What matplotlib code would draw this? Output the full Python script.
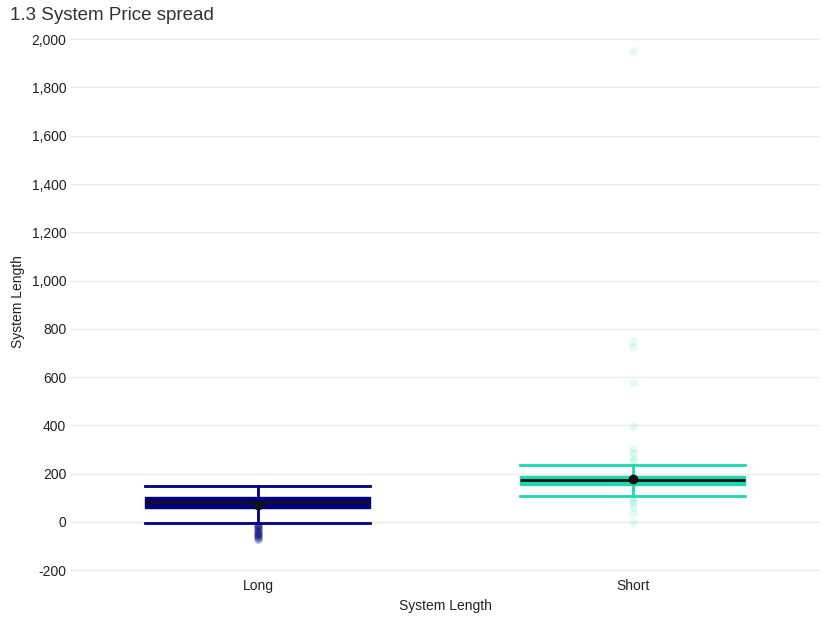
import matplotlib.pyplot as plt

plt.rcParams['font.family'] = ['Liberation Sans', 'DejaVu Sans']

categories = ["Long", "Short"]
colors = ["#000080", "#1FD8AF"]
q1 = [58, 155]
median = [83, 174]
q3 = [103, 191]
mean = [70, 179]
whisker_low = [-4, 109]
whisker_high = [149, 236]
outliers = [
    [-12, -18, -25, -32, -40, -48, -55, -62, -70],
    [1950, 751, 726, 574, 399, 302, 284, 264, 253, 105, 91, 77, 63, 36, -2],
]

fig = plt.figure(figsize=(8.22, 6.17), dpi=100)
ax = fig.add_axes([0.0858, 0.064, 0.912, 0.896])

for i, cat in enumerate(categories):
    stats = [dict(med=median[i], q1=q1[i], q3=q3[i], whislo=whisker_low[i],
                  whishi=whisker_high[i], mean=mean[i], fliers=[], label=cat)]
    c = colors[i]
    ax.bxp(stats, positions=[i], widths=0.6, capwidths=0.6, showmeans=True,
           showfliers=False, patch_artist=True,
           boxprops=dict(facecolor=c, edgecolor=c, linewidth=1),
           whiskerprops=dict(color=c, linewidth=2),
           capprops=dict(color=c, linewidth=2),
           medianprops=dict(color="#111111", linewidth=2),
           meanprops=dict(marker="o", markerfacecolor="#111111",
                          markeredgecolor="#111111", markersize=6),
           manage_ticks=False)
    alpha = 0.35 if i == 0 else 0.12
    ax.plot([i] * len(outliers[i]), outliers[i], "o", color=c, alpha=alpha,
            markersize=6, markeredgewidth=0, zorder=1)

ax.set_xlim(-0.5, 1.5)
ax.set_ylim(-230, 2060)
ax.set_xticks(range(len(categories)))
ax.set_xticklabels(categories)
ax.set_yticks(range(-200, 2001, 200))
ax.yaxis.set_major_formatter(plt.FuncFormatter(lambda v, p: f"{int(v):,}"))
ax.grid(axis="y", color="#EBEBEB", linewidth=1)
ax.set_axisbelow(True)
for s in ax.spines.values():
    s.set_visible(False)
ax.tick_params(length=0, labelsize=10, colors="#222222")
ax.tick_params(axis="x", pad=1)
ax.tick_params(axis="y", pad=3)
ax.set_xlabel("System Length", fontsize=10, color="#222222")
ax.set_ylabel("System Length", fontsize=10, color="#222222")
ax.xaxis.set_label_coords(0.5, -0.039)
ax.yaxis.set_label_coords(-0.061, 0.5)
fig.text(0.012, 0.988, "1.3 System Price spread", fontsize=13.5, color="#333333",
         ha="left", va="top")

fig.savefig("out.png", dpi=100)
